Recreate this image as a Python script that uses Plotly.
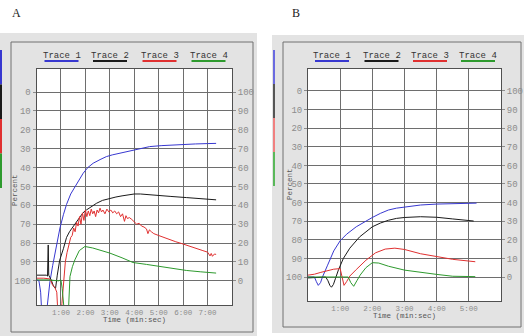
import plotly.graph_objects as go

W, H = 524, 336

# ---------------- data (x in minutes, y in percent) ----------------
blue_a = [(0, 99.5), (0.1, 100), (0.17, 106), (0.22, 118), (0.4, 118), (0.47, 108), (0.55, 100.4),
          (0.66, 92), (0.76, 85.4), (0.86, 78), (0.96, 72), (1.1, 65), (1.23, 59.5), (1.4, 54),
          (1.57, 50.1), (1.75, 46), (1.91, 43), (2.1, 40), (2.32, 37.7), (2.6, 35.8), (2.86, 34.2),
          (3.1, 33.3), (3.41, 32.4), (3.7, 31.3), (3.94, 30.7), (4.3, 29.8), (4.63, 28.9), (5.1, 28.4),
          (5.57, 28), (6.0, 27.8), (6.5, 27.5), (7.0, 27.3), (7.35, 27.2)]
black_a = [(0, 97), (0.4, 97), (0.45, 97.5), (0.48, 81), (0.5, 97), (0.6, 99.5), (0.7, 103),
           (0.78, 104), (0.85, 97), (0.95, 89), (1.1, 83), (1.23, 77), (1.35, 74), (1.5, 71.3),
           (1.64, 68.5), (1.78, 66), (1.9, 64), (2.05, 62.4), (2.25, 60.5), (2.46, 58.9), (2.7, 57.4),
           (3.0, 56.2), (3.25, 55.6), (3.5, 55), (3.75, 54.4), (4.0, 54), (4.25, 54), (4.5, 54.2),
           (5.04, 54.9), (5.5, 55.3), (6.13, 55.9), (6.8, 56.5), (7.35, 57.1)]
red_a = [(0, 98.6), (0.3, 98.6), (0.55, 99), (0.65, 102), (0.75, 103.5), (0.83, 106), (0.88, 118),
         (1.0, 118), (1.04, 112), (1.1, 100), (1.18, 90), (1.25, 85), (1.32, 81), (1.4, 77), (1.46, 76),
         (1.52, 72), (1.58, 74), (1.64, 69), (1.7, 71), (1.76, 66), (1.82, 70), (1.88, 64), (1.94, 68),
         (2.0, 62.5), (2.06, 66), (2.12, 63), (2.18, 65.5), (2.24, 62), (2.3, 64.5), (2.36, 63),
         (2.42, 66), (2.48, 62.5), (2.54, 64), (2.6, 61.5), (2.66, 63.5), (2.72, 62.5), (2.8, 64.5),
         (2.88, 62), (2.96, 63.5), (3.04, 62.5), (3.12, 64), (3.2, 63), (3.28, 64.5), (3.36, 63.5),
         (3.44, 66), (3.52, 64.5), (3.6, 68.5), (3.66, 65.5), (3.72, 67), (3.8, 66.5), (3.9, 67.5),
         (4.0, 68.5), (4.1, 70), (4.2, 69.5), (4.3, 71), (4.4, 71.5), (4.5, 72.5), (4.56, 75),
         (4.62, 73), (4.7, 74), (4.8, 75), (5.0, 76), (5.2, 77), (5.45, 78), (5.7, 79.3), (5.95, 80.3),
         (6.13, 81), (6.4, 82.2), (6.6, 83), (6.81, 84), (7.0, 84.8), (7.1, 86.8), (7.15, 85.5),
         (7.2, 87), (7.28, 85.8), (7.35, 86)]
green_a = [(0, 99.5), (0.5, 99.5), (0.9, 100), (1.0, 99.5), (1.05, 104), (1.1, 112), (1.15, 118),
           (1.3, 118), (1.37, 97.7), (1.47, 92.5), (1.57, 88.9), (1.75, 84), (1.98, 81.8), (2.3, 82.6),
           (2.59, 83.6), (3.0, 85.3), (3.5, 87.8), (3.95, 90.3), (4.5, 91.3), (5.04, 92.4), (5.6, 93.5),
           (6.13, 94.5), (6.7, 95.2), (7.35, 95.9)]

blue_b = [(0, 100), (0.2, 100), (0.26, 102.5), (0.32, 104.5), (0.39, 103), (0.45, 100), (0.6, 94),
          (0.8, 86), (1.0, 80.5), (1.2, 77), (1.5, 73), (1.75, 70.3), (2.0, 68), (2.25, 65.8),
          (2.5, 64), (2.75, 63), (3.0, 62.3), (3.5, 61.3), (4.0, 60.8), (4.5, 60.5), (5.24, 60.3)]
black_b = [(0, 100.5), (0.55, 100), (0.62, 102), (0.68, 104.5), (0.73, 105.5), (0.79, 104),
           (0.85, 101), (0.95, 96), (1.1, 90), (1.3, 84.5), (1.6, 78.5), (2.0, 73), (2.25, 71),
           (2.5, 69.5), (2.75, 68.5), (3.0, 68), (3.5, 67.6), (4.0, 67.9), (4.5, 68.8), (5.15, 69.9)]
red_b = [(0, 99), (0.2, 98.5), (0.4, 97.5), (0.6, 96.5), (0.8, 95.8), (1.0, 95.5), (1.04, 99),
         (1.08, 103), (1.12, 104.5), (1.2, 102.5), (1.3, 99.5), (1.5, 96), (1.8, 91), (2.1, 87),
         (2.4, 85), (2.7, 84.5), (3.0, 85.2), (3.5, 87.5), (4.0, 89.2), (4.5, 90.5), (5.2, 91.8)]
green_b = [(0, 100), (0.5, 100), (1.0, 100), (1.25, 100), (1.33, 103), (1.42, 105), (1.52, 102),
           (1.62, 99), (1.8, 95), (2.0, 92.3), (2.2, 92.5), (2.5, 94.2), (3.0, 96.3), (3.5, 97.6),
           (4.0, 98.6), (4.5, 99.6), (5.2, 99.8)]

trace_names = ["Trace 1", "Trace 2", "Trace 3", "Trace 4"]
trace_colors = ["#3838d0", "#1a1a1a", "#e03030", "#2e9a2e"]
b_strip_colors = ["#6a6ae0", "#555555", "#f08080", "#5ab85a"]
ticks_a = [1, 2, 3, 4, 5, 6, 7]
ticks_b = [1, 2, 3, 4, 5]
pct_ticks = list(range(0, 101, 10))


def mmss(m):
    return f"{int(m)}:00"


def fx(p):
    return p / W


def fy(p):
    return 1 - p / H


# ---------------- figure ----------------
fig = go.Figure()
for series, name, col in zip([blue_a, black_a, red_a, green_a], trace_names, trace_colors):
    fig.add_trace(go.Scatter(x=[p[0] for p in series], y=[p[1] for p in series], mode="lines",
                             line=dict(color=col, width=1), name=name, showlegend=False,
                             xaxis="x", yaxis="y"))
for series, name, col in zip([blue_b, black_b, red_b, green_b], trace_names, trace_colors):
    fig.add_trace(go.Scatter(x=[p[0] for p in series], y=[p[1] for p in series], mode="lines",
                             line=dict(color=col, width=1), name=name, showlegend=False,
                             xaxis="x2", yaxis="y3"))
fig.add_trace(go.Scatter(x=[], y=[], xaxis="x", yaxis="y2", showlegend=False))
fig.add_trace(go.Scatter(x=[], y=[], xaxis="x2", yaxis="y4", showlegend=False))

ytickfont = dict(family="Liberation Mono", size=9, color="#8c8c8c")
xtickfont = dict(family="Liberation Mono", size=7.5, color="#8c8c8c")
grid = dict(showgrid=True, gridcolor="#6e6e6e", gridwidth=1, zeroline=False,
            showline=True, linecolor="#505050", linewidth=1, mirror=True)

# panel geometry (pixels)
A = dict(l=36.5, r=232, t=69, b=305)
B = dict(l=308, r=501, t=69, b=301)

fig.update_layout(
    width=W, height=H, margin=dict(l=0, r=0, t=0, b=0),
    paper_bgcolor="white", plot_bgcolor="rgba(0,0,0,0)",
    xaxis=dict(domain=[fx(A["l"]), fx(A["r"])], range=[0, 8], anchor="y",
               tickvals=ticks_a, ticktext=[mmss(t) for t in ticks_a], ticks="", ticklen=0,
               tickangle=0, tickfont=xtickfont, **grid),
    yaxis=dict(domain=[fy(A["b"]), fy(A["t"])], range=[112.8, -12.2], anchor="x",
               tickvals=pct_ticks, ticks="outside", ticklen=3, tickcolor="#8c8c8c",
               tickfont=ytickfont, **grid),
    yaxis2=dict(overlaying="y", side="right", anchor="x", range=[-12.8, 112.2],
                tickvals=pct_ticks, ticks="outside", ticklen=3, tickcolor="#8c8c8c",
                tickfont=ytickfont, showgrid=False, zeroline=False, showline=False),
    xaxis2=dict(domain=[fx(B["l"]), fx(B["r"])], range=[0, 6], anchor="y3",
                tickvals=ticks_b, ticktext=[mmss(t) for t in ticks_b], ticks="", ticklen=0,
                tickangle=0, tickfont=xtickfont, **grid),
    yaxis3=dict(domain=[fy(B["b"]), fy(B["t"])], range=[112.9, -11.8], anchor="x2",
                tickvals=pct_ticks, ticks="outside", ticklen=3, tickcolor="#8c8c8c",
                tickfont=ytickfont, **grid),
    yaxis4=dict(overlaying="y3", side="right", anchor="x2", range=[-12.9, 111.8],
                tickvals=pct_ticks, ticks="outside", ticklen=3, tickcolor="#8c8c8c",
                tickfont=ytickfont, showgrid=False, zeroline=False, showline=False),
)

shapes = []
# gray panel backgrounds, frames, white plot areas
for bg, fr, pa in [((0, 33, 257, 336), (11, 42, 253, 332), A),
                   ((272, 35, 524, 333), (283, 42, 521, 327), B)]:
    shapes.append(dict(type="rect", xref="paper", yref="paper", layer="below",
                       x0=fx(bg[0]), x1=fx(bg[2]), y0=fy(bg[3]), y1=fy(bg[1]),
                       fillcolor="#e3e3e3", line=dict(width=0)))
    shapes.append(dict(type="rect", xref="paper", yref="paper", layer="below",
                       x0=fx(fr[0]), x1=fx(fr[2]), y0=fy(fr[3]), y1=fy(fr[1]),
                       fillcolor="rgba(0,0,0,0)", line=dict(color="#707070", width=1)))
    shapes.append(dict(type="rect", xref="paper", yref="paper", layer="below",
                       x0=fx(pa["l"]), x1=fx(pa["r"]), y0=fy(pa["b"]), y1=fy(pa["t"]),
                       fillcolor="white", line=dict(width=0)))

annotations = []


def label(x, y, text, font, angle=0):
    annotations.append(dict(x=fx(x), y=fy(y), xref="paper", yref="paper", text=text,
                            showarrow=False, xanchor="center", yanchor="middle",
                            textangle=angle, font=font))


# legends (text with coloured underline)
leg_a = [61.5, 110, 159.5, 208.5]
leg_b = [332, 381.5, 430, 478]
legfont = dict(family="Liberation Mono", size=9, color="#333333")
for centers in (leg_a, leg_b):
    for cx, name, col in zip(centers, trace_names, trace_colors):
        label(cx, 56, name, legfont)
        shapes.append(dict(type="line", xref="paper", yref="paper",
                           x0=fx(cx - 17), x1=fx(cx + 17), y0=fy(61), y1=fy(61),
                           line=dict(color=col, width=2)))

# coloured strips at the left edges
for i, col in enumerate(trace_colors):
    shapes.append(dict(type="line", xref="paper", yref="paper",
                       x0=fx(1), x1=fx(1), y0=fy(50 + 34.5 * i), y1=fy(84.5 + 34.5 * i),
                       line=dict(color=col, width=2)))
for i, col in enumerate(b_strip_colors):
    shapes.append(dict(type="line", xref="paper", yref="paper",
                       x0=fx(274), x1=fx(274), y0=fy(50 + 34 * i), y1=fy(84 + 34 * i),
                       line=dict(color=col, width=2)))

# axis titles and panel letters
axfont = dict(family="Liberation Mono", size=7.5, color="#555555")
label(134, 320, "Time (min:sec)", axfont)
label(404.5, 316, "Time (min:sec)", axfont)
label(15, 190, "Percent", axfont, -90)
label(290, 184, "Percent", axfont, -90)
letterfont = dict(family="Liberation Serif", size=12, color="#222222")
label(16, 13, "A", letterfont)
label(296, 13, "B", letterfont)

fig.update_layout(shapes=shapes, annotations=annotations)
fig.write_html("out.html")
